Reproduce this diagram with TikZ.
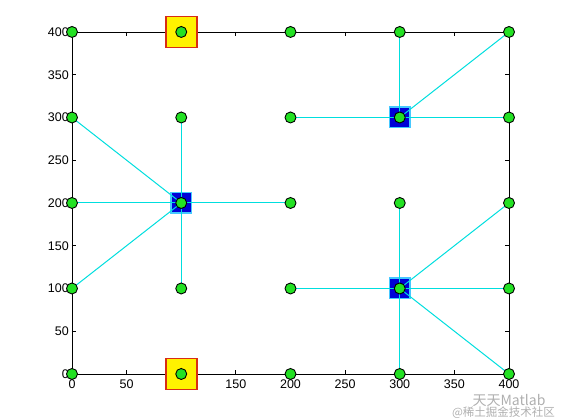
\documentclass[tikz,border=0pt]{standalone}
\usepackage{fontspec}
\setmainfont{Liberation Sans}
\newfontfamily\cjkfont{Noto Sans CJK SC}
\definecolor{sgreen}{RGB}{35,225,35}
\definecolor{hubblue}{RGB}{0,0,215}
\definecolor{hubedge}{RGB}{70,200,255}
\definecolor{edgecyan}{RGB}{0,222,222}
\definecolor{boxred}{RGB}{215,45,20}
\definecolor{markgray}{RGB}{175,175,175}

\begin{document}
\begin{tikzpicture}[
  x=1.0925pt, y=0.855pt,
  axisline/.style={black,line width=0.8pt},
  ticklabel/.style={inner sep=0pt,font=\fontsize{12.5}{14}\selectfont},
  link/.style={draw=edgecyan,line width=1pt},
  sensor/.style={circle,draw=black,line width=0.9pt,fill=sgreen,minimum size=11pt,inner sep=0pt},
  hub/.style={rectangle,draw=hubedge,line width=1.5pt,fill=hubblue,minimum size=20.5pt,inner sep=0pt},
  anchorbox/.style={rectangle,draw=boxred,line width=1.8pt,fill=yellow,minimum size=31pt,inner sep=0pt},
  wmark/.style={inner sep=0pt,text=markgray},
]
\useasboundingbox (-65.9,-53.8) rectangle (447.6,437.4);

% axes box, ticks and labels
\draw[axisline] (0,0) rectangle (400,400);
\foreach \t in {0,50,...,400} {
  \draw[axisline] (\t,0) -- ++(0,4.7);
  \draw[axisline] (\t,400) -- ++(0,-4.7);
  \draw[axisline] (0,\t) -- ++(3.7,0);
  \draw[axisline] (400,\t) -- ++(-3.7,0);
  \node[ticklabel,anchor=north] (xl\t) at (\t,-7) {\t};
  \node[ticklabel,anchor=east] (yl\t) at (-2.7,\t) {\t};
}

% grid points
\foreach \x in {0,100,...,400}
  \foreach \y in {0,100,...,400}
    \coordinate (p\x-\y) at (\x,\y);

\node[anchorbox] (a1) at (p100-400) {};
\node[anchorbox] (a2) at (p100-0) {};
\node[hub] (h1) at (p100-200) {};
\node[hub] (h2) at (p300-300) {};
\node[hub] (h3) at (p300-100) {};

% links from the hubs
\foreach \p in {0-300,0-200,0-100,100-300,100-100,200-200}
  \draw[link] (p100-200) -- (p\p);
\foreach \p in {200-300,300-400,400-400,400-300}
  \draw[link] (p300-300) -- (p\p);
\foreach \p in {200-100,300-200,300-0,400-0,400-100,400-200}
  \draw[link] (p300-100) -- (p\p);

\foreach \x in {0,100,...,400}
  \foreach \y in {0,100,...,400}
    \node[sensor] (s\x-\y) at (p\x-\y) {};

\node[wmark,font=\cjkfont\fontsize{14}{16}\selectfont] (wm1) at (400,-31) {天天Matlab};
\node[wmark,font=\cjkfont\fontsize{11.5}{13}\selectfont] (wm2) at (395,-45) {@稀土掘金技术社区};

\end{tikzpicture}
\end{document}
